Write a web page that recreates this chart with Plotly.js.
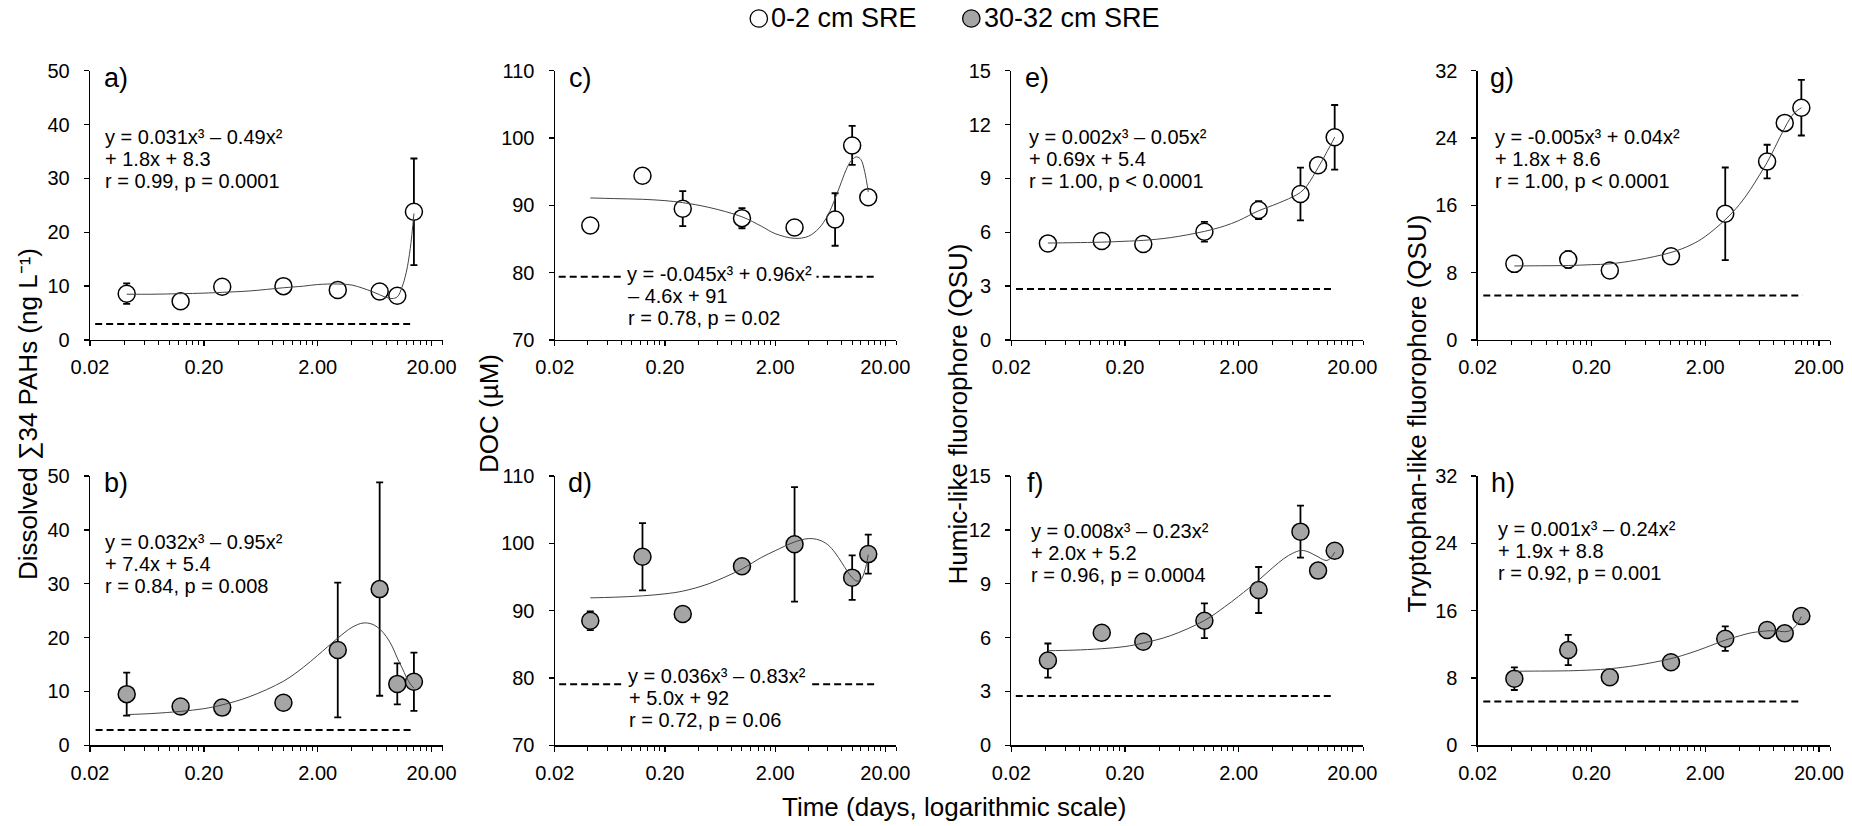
<!DOCTYPE html>
<html>
<head>
<meta charset="utf-8">
<script src="https://cdn.plot.ly/plotly-3.0.1.min.js"></script>
<style>
html, body { margin: 0; padding: 0; background: #ffffff; }
#chart { width: 1852px; height: 826px; }
</style>
</head>
<body>
<div id="chart"></div>
<script>
// ------------------------- DATA -------------------------
const sampleDays = [0.042, 0.125, 0.29, 1, 3, 7, 10, 14];
const sampleDaysDocDeep = [0.042, 0.125, 0.29, 1, 3, 10, 14];
const fitDays = [0.042, 0.07, 0.125, 0.2, 0.29, 0.5, 1, 1.5, 2, 3, 4, 5, 6, 7, 8, 9, 10, 11, 12, 13, 14];

// a) dissolved PAHs, 0-2 cm SRE
const pahShallow = [8.6, 7.2, 9.9, 10.0, 9.3, 9.0, 8.2, 23.8];
const pahShallowErr = [1.9, 0, 0, 0, 0, 0, 0, 9.9];
const pahShallowFit = [8.5, 8.5, 8.6, 8.7, 8.85, 9.1, 9.7, 10.0, 10.3, 10.4, 10.2, 9.6, 9.0, 8.4, 7.9, 7.7, 8.0, 9.8, 12.6, 17.0, 23.5];
// b) dissolved PAHs, 30-32 cm SRE
const pahDeep = [9.5, 7.2, 7.0, 7.9, 17.7, 29.0, 11.4, 11.8];
const pahDeepErr = [4.0, 0, 0, 0.9, 12.5, 19.8, 3.8, 5.4];
const pahDeepFit = [5.7, 5.9, 6.3, 6.8, 7.5, 9.0, 11.9, 14.5, 16.7, 19.9, 21.9, 22.7, 22.5, 21.6, 20.2, 18.4, 16.2, 14.4, 12.7, 11.4, 10.6];
// c) DOC, 0-2 cm SRE
const docShallow = [87.0, 94.4, 89.5, 88.1, 86.7, 87.9, 98.9, 91.2];
const docShallowErr = [0, 0, 2.6, 1.5, 0, 3.9, 2.9, 0];
const docShallowFit = [91.1, 91.0, 90.9, 90.7, 90.4, 89.7, 88.3, 86.9, 85.8, 85.1, 85.4, 86.6, 88.5, 91.0, 93.5, 95.6, 96.8, 97.2, 96.8, 95.0, 92.0];
// d) DOC, 30-32 cm SRE
const docDeep = [88.5, 98.0, 89.5, 96.6, 99.85, 94.9, 98.4];
const docDeepErr = [1.4, 5.0, 0, 0, 8.5, 3.3, 2.9];
const docDeepFit = [91.9, 92.0, 92.2, 92.5, 92.9, 94.0, 96.2, 97.9, 98.9, 100.2, 100.7, 100.5, 99.8, 98.6, 97.2, 95.9, 94.9, 94.4, 94.6, 95.9, 98.3];
// e) humic-like fluorophore, 0-2 cm SRE
const humicShallow = [5.38, 5.51, 5.35, 6.03, 7.24, 8.13, 9.73, 11.29];
const humicShallowErr = [0, 0, 0, 0.55, 0.5, 1.47, 0, 1.8];
const humicShallowFit = [5.4, 5.42, 5.45, 5.5, 5.55, 5.7, 6.05, 6.35, 6.65, 7.2, 7.5, 7.75, 7.98, 8.22, 8.6, 9.1, 9.6, 10.05, 10.5, 10.9, 11.3];
// f) humic-like fluorophore, 30-32 cm SRE
const humicDeep = [4.72, 6.27, 5.77, 6.94, 8.65, 11.9, 9.73, 10.84];
const humicDeepErr = [0.95, 0, 0, 0.97, 1.28, 1.45, 0, 0];
const humicDeepFit = [5.27, 5.3, 5.38, 5.5, 5.7, 6.1, 6.95, 7.7, 8.3, 9.2, 9.9, 10.4, 10.7, 10.85, 10.8, 10.65, 10.5, 10.35, 10.3, 10.45, 10.75];
// g) tryptophan-like fluorophore, 0-2 cm SRE
const tryptoShallow = [9.05, 9.57, 8.26, 9.96, 15.0, 21.2, 25.8, 27.6];
const tryptoShallowErr = [0, 1.0, 0, 0, 5.5, 2.0, 0, 3.3];
const tryptoShallowFit = [8.8, 8.82, 8.85, 8.95, 9.05, 9.5, 10.4, 11.3, 12.3, 14.3, 16.1, 17.9, 19.6, 21.1, 22.6, 24.0, 25.2, 26.2, 26.9, 27.3, 27.6];
// h) tryptophan-like fluorophore, 30-32 cm SRE
const tryptoDeep = [7.92, 11.33, 8.08, 9.86, 12.67, 13.7, 13.3, 15.37];
const tryptoDeepErr = [1.35, 1.8, 0, 0, 1.45, 0, 0, 0];
const tryptoDeepFit = [8.8, 8.82, 8.85, 8.95, 9.1, 9.5, 10.3, 11.0, 11.6, 12.5, 13.0, 13.35, 13.5, 13.6, 13.6, 13.55, 13.5, 13.6, 13.95, 14.5, 15.3];

// dashed reference lines, panels a..h
const refLevel = [2.97, 2.85, 79.4, 79.06, 2.84, 2.75, 5.28, 5.19];
const refStart = [0.0222, 0.0224, 0.0217, 0.0219, 0.022, 0.0219, 0.0224, 0.0224];
const refEnd = [13.6, 13.8, 17.0, 16.6, 13.4, 13.2, 14.3, 14.0];

// texts
const panelLetters = ['a)', 'b)', 'c)', 'd)', 'e)', 'f)', 'g)', 'h)'];
const equations = [
  ['y = 0.031x³ – 0.49x²', '+ 1.8x + 8.3', 'r = 0.99, p = 0.0001'],
  ['y = 0.032x³ – 0.95x²', '+ 7.4x + 5.4', 'r = 0.84, p = 0.008'],
  ['y = -0.045x³ + 0.96x²', '– 4.6x + 91', 'r = 0.78, p = 0.02'],
  ['y = 0.036x³ – 0.83x²', '+ 5.0x + 92', 'r = 0.72, p = 0.06'],
  ['y = 0.002x³ – 0.05x²', '+ 0.69x + 5.4', 'r = 1.00, p < 0.0001'],
  ['y = 0.008x³ – 0.23x²', '+ 2.0x + 5.2', 'r = 0.96, p = 0.0004'],
  ['y = -0.005x³ + 0.04x²', '+ 1.8x + 8.6', 'r = 1.00, p < 0.0001'],
  ['y = 0.001x³ – 0.24x²', '+ 1.9x + 8.8', 'r = 0.92, p = 0.001']
];
const yTitles = ['Dissolved ∑34 PAHs (ng L⁻¹)', 'DOC (µM)', 'Humic-like fluorophore (QSU)', 'Tryptophan-like fluorophore (QSU)'];
const xTitle = 'Time (days, logarithmic scale)';
const seriesNames = ['0-2 cm SRE', '30-32 cm SRE'];
const yRanges = [[0, 50], [70, 110], [0, 15], [0, 32]];
const yDticks = [10, 10, 3, 8];
const xMajorTicks = [0.02, 0.2, 2, 20];
const xMajorLabels = ['0.02', '0.20', '2.00', '20.00'];
const xMinorTicks = [0.04, 0.06, 0.08, 0.1, 0.12, 0.14, 0.16, 0.18,
                     0.4, 0.6, 0.8, 1.0, 1.2, 1.4, 1.6, 1.8,
                     4, 6, 8, 10, 12, 14, 16, 18, 25];

// ------------------------- LAYOUT HELPERS -------------------------
const W = 1852, H = 826;
const px = v => v / W;
const py = v => 1 - v / H;
const FONT = 'Liberation Sans, Arial, Helvetica, sans-serif';
const colX = [[90, 442.6], [554.8, 896], [1011.3, 1363.3], [1477.7, 1830]];
const rowY = [[70.7, 340], [476, 745.3]];
const eqLeft = [104, 104.3, 626.7, 628.3, 1028.3, 1030, 1494, 1496.7];
const eqTop = [136.7, 542.3, 274, 675.7, 137.3, 531, 137.3, 529];
const eqStep = 21.9;
const labelLeft = [102, 101.5, 566.5, 565.5, 1023, 1024.7, 1488, 1489];
const labelMid = [78, 483.5];
const yTitleX = [28, 489, 957.5, 1416.5];
const yTitleMid = 414;

const panelsY = [pahShallow, pahDeep, docShallow, docDeep, humicShallow, humicDeep, tryptoShallow, tryptoDeep];
const panelsErr = [pahShallowErr, pahDeepErr, docShallowErr, docDeepErr, humicShallowErr, humicDeepErr, tryptoShallowErr, tryptoDeepErr];
const panelsFit = [pahShallowFit, pahDeepFit, docShallowFit, docDeepFit, humicShallowFit, humicDeepFit, tryptoShallowFit, tryptoDeepFit];
const panelsX = [sampleDays, sampleDays, sampleDays, sampleDaysDocDeep, sampleDays, sampleDays, sampleDays, sampleDays];

const traces = [];
const layout = {
  width: W, height: H,
  margin: {l: 0, r: 0, t: 0, b: 0},
  paper_bgcolor: '#ffffff',
  plot_bgcolor: 'rgba(0,0,0,0)',
  showlegend: false,
  font: {family: FONT, color: '#000000', size: 20},
  annotations: [],
  shapes: []
};

for (let i = 0; i < 8; i++) {
  const n = i + 1;
  const col = Math.floor(i / 2), row = i % 2;
  const xa = 'x' + n, ya = 'y' + n;
  const isDeep = row === 1;

  // dashed reference line
  traces.push({
    x: [refStart[i], refEnd[i]], y: [refLevel[i], refLevel[i]],
    xaxis: xa, yaxis: ya, mode: 'lines', hoverinfo: 'skip', showlegend: false,
    line: {color: '#000000', width: 2, dash: '7px,4px'}
  });
  // data points with error bars
  traces.push({
    x: panelsX[i], y: panelsY[i], xaxis: xa, yaxis: ya,
    mode: 'markers', name: seriesNames[row], showlegend: false,
    marker: {size: 17, color: isDeep ? '#a5a5a5' : '#ffffff', line: {color: '#000000', width: 1.5}},
    error_y: {type: 'data', array: panelsErr[i], visible: true, color: '#000000', thickness: 1.8, width: 3.5},
    cliponaxis: false
  });
  // fitted cubic
  traces.push({
    x: fitDays, y: panelsFit[i], xaxis: xa, yaxis: ya,
    mode: 'lines', hoverinfo: 'skip', showlegend: false,
    line: {color: '#444444', width: 1, shape: 'spline', smoothing: 1}
  });

  const axKey = n === 1 ? '' : String(n);
  layout['xaxis' + axKey] = {
    domain: [px(colX[col][0]), px(colX[col][1])],
    anchor: ya, type: 'log',
    range: [Math.log10(0.02), Math.log10(25)],
    tickmode: 'array', tickvals: xMajorTicks, ticktext: xMajorLabels,
    ticks: 'outside', ticklen: 5, tickwidth: 1.3, tickcolor: '#000000',
    minor: {tickmode: 'array', tickvals: xMinorTicks, ticks: 'outside', ticklen: 4, tickwidth: 1, tickcolor: '#000000', showgrid: false},
    showline: true, linecolor: '#000000', linewidth: 1.3,
    showgrid: false, zeroline: false,
    tickfont: {family: FONT, size: 20, color: '#000000'},
    ticklabelstandoff: 4,
    fixedrange: true
  };
  layout['yaxis' + axKey] = {
    domain: [py(rowY[row][1]), py(rowY[row][0])],
    anchor: xa,
    range: yRanges[col], tickmode: 'linear', tick0: yRanges[col][0], dtick: yDticks[col],
    ticks: 'outside', ticklen: 5, tickwidth: 1.3, tickcolor: '#000000',
    showline: true, linecolor: '#000000', linewidth: 1.3,
    showgrid: false, zeroline: false,
    tickfont: {family: FONT, size: 20, color: '#000000'},
    ticklabelstandoff: 10,
    fixedrange: true
  };

  // panel letter
  layout.annotations.push({
    xref: 'paper', yref: 'paper', x: px(labelLeft[i]), y: py(labelMid[row]),
    xanchor: 'left', yanchor: 'middle', showarrow: false,
    text: panelLetters[i], font: {family: FONT, size: 27, color: '#000000'}
  });
  // equation lines (the first DOC line sits on the dashed line, masked white as in the figure)
  for (let k = 0; k < 3; k++) {
    const masked = (col === 1 && k === 0);
    layout.annotations.push({
      xref: 'paper', yref: 'paper', x: px(eqLeft[i] - (masked ? 5 : 2)), y: py(eqTop[i] + k * eqStep),
      xanchor: 'left', yanchor: 'middle', showarrow: false,
      text: equations[i][k], font: {family: FONT, size: 20, color: '#000000'},
      bgcolor: masked ? '#ffffff' : 'rgba(0,0,0,0)', borderpad: masked ? 4 : 2
    });
  }
}

// y titles
for (let c = 0; c < 4; c++) {
  layout.annotations.push({
    xref: 'paper', yref: 'paper', x: px(yTitleX[c]), y: py(yTitleMid),
    xanchor: 'center', yanchor: 'middle', showarrow: false, textangle: -90,
    text: yTitles[c], font: {family: FONT, size: 26, color: '#000000'}
  });
}
// x title
layout.annotations.push({
  xref: 'paper', yref: 'paper', x: px(954), y: py(806.5),
  xanchor: 'center', yanchor: 'middle', showarrow: false,
  text: xTitle, font: {family: FONT, size: 26, color: '#000000'}
});

// legend (top centre)
const legendCircleX = [758.8, 971.3];
const legendTextX = [768.5, 981.5];
const legendFill = ['#ffffff', '#a5a5a5'];
for (let s = 0; s < 2; s++) {
  layout.shapes.push({
    type: 'circle', xref: 'paper', yref: 'paper',
    xsizemode: 'pixel', ysizemode: 'pixel',
    xanchor: px(legendCircleX[s]), yanchor: py(18.5),
    x0: -8.7, x1: 8.7, y0: -8.7, y1: 8.7,
    fillcolor: legendFill[s], line: {color: '#000000', width: 1.3}
  });
  layout.annotations.push({
    xref: 'paper', yref: 'paper', x: px(legendTextX[s]), y: py(18.3),
    xanchor: 'left', yanchor: 'middle', showarrow: false,
    text: seriesNames[s], font: {family: FONT, size: 27, color: '#000000'}
  });
}

Plotly.newPlot('chart', traces, layout, {staticPlot: true, displayModeBar: false});
</script>
</body>
</html>
